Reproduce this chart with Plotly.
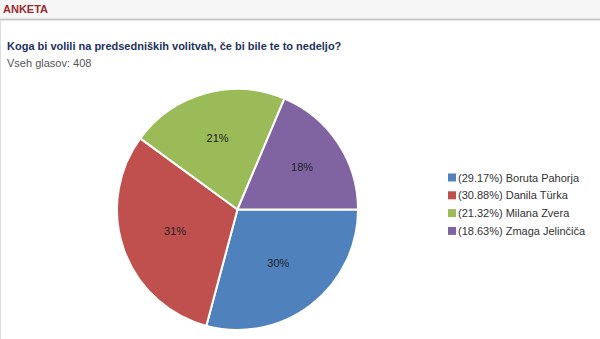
import plotly.graph_objects as go

labels = ["(29.17%) Boruta Pahorja", "(30.88%) Danila Türka", "(21.32%) Milana Zvera", "(18.63%) Zmaga Jelinčiča"]
values = [29.17, 30.88, 21.32, 18.63]
slice_text = ["30%", "31%", "21%", "18%"]
colors = ["#4f81bd", "#c0504d", "#9bbb59", "#8064a2"]

W, H = 600, 339

def py(px):
    return 1 - px / H

def px_(x):
    return x / W

fig = go.Figure(go.Pie(
    labels=labels, values=values, text=slice_text, textinfo="text",
    sort=False, direction="clockwise", rotation=90,
    marker=dict(colors=colors, line=dict(color="white", width=2)),
    textfont=dict(family="Arial", size=11, color="#222222"),
    textposition="inside", insidetextorientation="horizontal",
    domain=dict(x=[px_(117), px_(358)], y=[py(330), py(89)]),
    hoverinfo="label",
))

shapes = [
    dict(type="rect", xref="paper", yref="paper", x0=0, x1=1, y0=py(18), y1=1,
         fillcolor="#f6f6f6", line=dict(width=0), layer="below"),
    dict(type="line", xref="paper", yref="paper", x0=0, x1=1, y0=py(19.5), y1=py(19.5),
         line=dict(color="#c8c8c8", width=2)),
    dict(type="line", xref="paper", yref="paper", x0=px_(0.5), x1=px_(0.5), y0=0, y1=py(20),
         line=dict(color="#dddddd", width=1)),
]

annotations = [
    dict(text="<b>ANKETA</b>", x=px_(1), y=py(9), xref="paper", yref="paper",
         xanchor="left", yanchor="middle", showarrow=False,
         font=dict(family="Arial", size=11, color="#9b2b2b")),
    dict(text="<b>Koga bi volili na predsedniških volitvah, če bi bile te to nedeljo?</b>",
         x=px_(5), y=py(46), xref="paper", yref="paper",
         xanchor="left", yanchor="middle", showarrow=False,
         font=dict(family="Arial", size=11, color="#1d3160")),
    dict(text="Vseh glasov: 408", x=px_(5), y=py(63), xref="paper", yref="paper",
         xanchor="left", yanchor="middle", showarrow=False,
         font=dict(family="Arial", size=11, color="#555555")),
]

# legend drawn beside the pie from the same labels/colors
leg_y0, leg_dy = 177.5, 17.8
for i, (lab, col) in enumerate(zip(labels, colors)):
    yc = leg_y0 + i * leg_dy
    shapes.append(dict(type="rect", xref="paper", yref="paper",
                       x0=px_(448), x1=px_(456), y0=py(yc + 4), y1=py(yc - 4),
                       fillcolor=col, line=dict(width=0)))
    annotations.append(dict(text=lab, x=px_(456), y=py(yc), xref="paper", yref="paper",
                            xanchor="left", yanchor="middle", showarrow=False,
                            font=dict(family="Arial", size=11, color="#333333")))

fig.update_layout(
    width=W, height=H, margin=dict(l=0, r=0, t=0, b=0),
    paper_bgcolor="white", plot_bgcolor="white",
    showlegend=False,
    shapes=shapes, annotations=annotations,
)

fig.write_html("out.html")
